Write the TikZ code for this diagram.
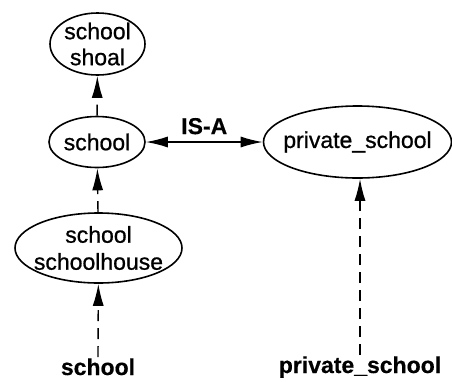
\documentclass[tikz,border=0pt]{standalone}
\usepackage{fontspec}
\setmainfont{Liberation Sans}[FakeBold=0.8,BoldFont={Liberation Sans Bold},BoldFeatures={FakeBold=0.4}]
\usetikzlibrary{shapes.geometric,arrows.meta}
\begin{document}
\begin{tikzpicture}[x=1pt,y=1pt,
  txt/.style={font=\fontsize{23}{26}\selectfont,inner sep=0pt,align=center},
  ell/.style={draw,ellipse,line width=1.6pt,inner sep=0pt},
  lbl/.style={font=\fontsize{23}{26}\selectfont\bfseries,inner sep=1pt,anchor=base},
  arr/.style={line width=1.4pt,-{Latex[length=22pt,width=11pt]}},
  dsh/.style={arr,dash pattern=on 11pt off 7pt}
]
\useasboundingbox (0,0) rectangle (452,-381);
\node[ell,minimum width=95pt,minimum height=62pt] (shoal) at (97.5,-44) {};
\node[txt] (tshoal) at (shoal.center) {school\\shoal};
\node[ell,minimum width=96pt,minimum height=51pt] (school) at (97,-142) {};
\node[txt] (tschool) at (school.center) {school};
\node[ell,minimum width=167pt,minimum height=70pt] (house) at (98.5,-248) {};
\node[txt,font=\fontsize{23}{27}\selectfont] (thouse) at (house.center) {school\\schoolhouse};
\node[ell,minimum width=188pt,minimum height=72pt] (priv) at (357.5,-142) {};
\node[txt] (tpriv) at (priv.center) {private\_school};
\node[lbl] (lab1) at (98,-375) {school};
\node[lbl] (lab2) at (360,-373) {private\_school};
\draw[dsh] (school) -- (shoal);
\draw[dsh] (house) -- (school);
\draw[dsh] (lab1.north) -- (house);
\draw[dsh] (lab2.north) -- (lab2.north |- priv.south);
\draw[line width=1.4pt,{Latex[length=22pt,width=11pt]}-{Latex[length=22pt,width=11pt]}] (school) -- node[above=6pt,font=\fontsize{23}{26}\selectfont\bfseries,inner sep=1pt] (isa) {IS-A} (priv);
\end{tikzpicture}
\end{document}
